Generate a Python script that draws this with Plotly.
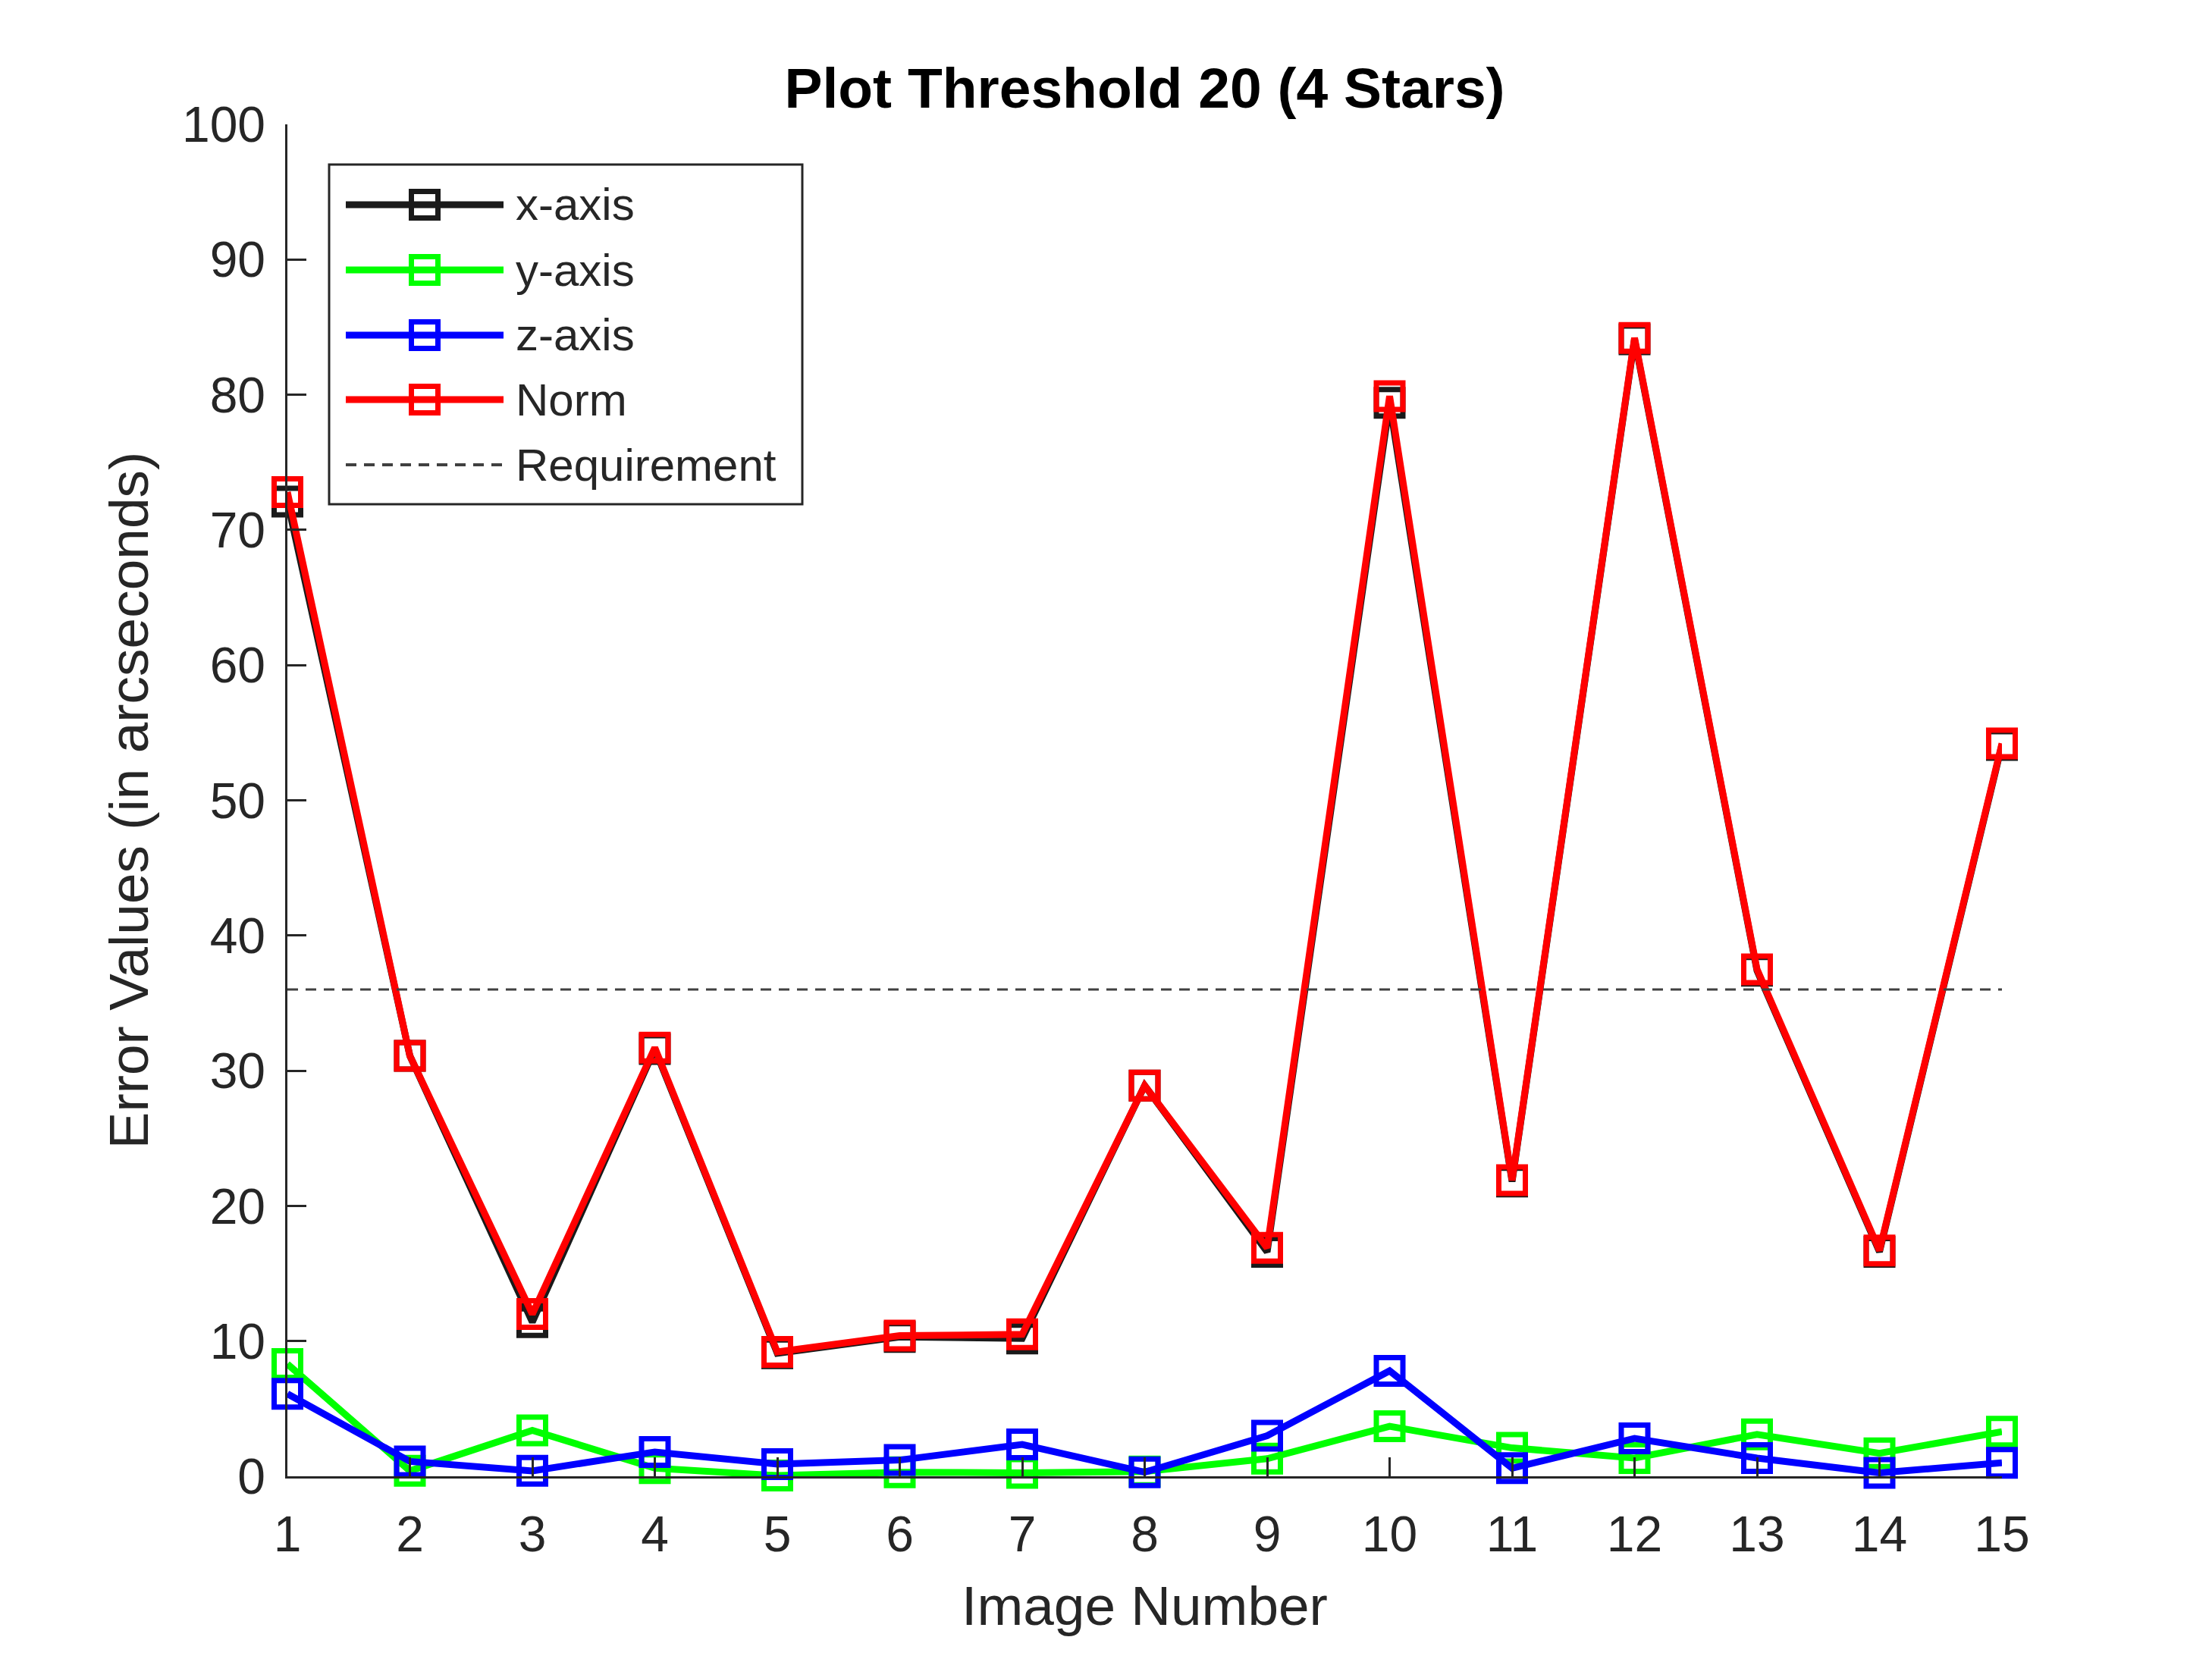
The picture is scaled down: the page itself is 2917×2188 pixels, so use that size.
import plotly.graph_objects as go

# data
image_number = list(range(1, 16))
x_axis_err = [72.1, 31.1, 11.4, 31.6, 9.1, 10.3, 10.2, 28.9, 16.6, 79.4, 21.8, 84.1, 37.4, 16.6, 54.1]
y_axis_err = [8.3, 0.4, 3.4, 0.6, 0.05, 0.3, 0.25, 0.35, 1.3, 3.7, 2.1, 1.35, 3.1, 1.7, 3.3]
z_axis_err = [6.1, 1.1, 0.4, 1.8, 0.9, 1.2, 2.35, 0.3, 3.0, 7.8, 0.6, 2.8, 1.35, 0.25, 1.0]
norm_err = [72.8, 31.1, 12.0, 31.7, 9.2, 10.4, 10.5, 28.9, 16.9, 79.9, 21.9, 84.2, 37.5, 16.7, 54.2]
requirement = 36

series_names = ["x-axis", "y-axis", "z-axis", "Norm"]
series_colors = ["#1a1a1a", "#00ff00", "#0000ff", "#ff0000"]
req_name = "Requirement"
req_color = "#404040"

y_ticks = list(range(0, 101, 10))

# figure geometry (pixels), MATLAB-like axes position
W, H = 2917, 2188
L, R, T, B = 379, 277, 164, 241
FONT = "Liberation Sans, Arial, Helvetica, sans-serif"
AX = "#262626"


def paper(px, py):
    return (px - L) / (W - L - R), (H - B - py) / (H - T - B)


fig = go.Figure()

for vals, name, col in zip([x_axis_err, y_axis_err, z_axis_err, norm_err], series_names, series_colors):
    fig.add_trace(go.Scatter(
        x=image_number, y=vals, name=name, mode="lines+markers",
        line=dict(color=col, width=9),
        marker=dict(symbol="square-open", size=35, color=col, line=dict(width=7, color=col)),
        cliponaxis=False, showlegend=False
    ))

fig.add_trace(go.Scatter(
    x=[image_number[0], image_number[-1]], y=[requirement, requirement],
    name=req_name, mode="lines",
    line=dict(color=req_color, width=3, dash="14px,10px"),
    showlegend=False
))

# hand-drawn legend box (MATLAB style, long line samples)
shapes = []
annotations = []
x0, y0 = paper(434, 217)
x1, y1 = paper(1058, 665)
shapes.append(dict(type="rect", xref="paper", yref="paper", x0=x0, y0=y1, x1=x1, y1=y0,
                   line=dict(color=AX, width=3), fillcolor="white", layer="above"))
row_y = [270, 356, 442, 527, 613]
for i, name in enumerate(series_names + [req_name]):
    lx0, ly = paper(456, row_y[i])
    lx1, _ = paper(664, row_y[i])
    if i < len(series_names):
        col = series_colors[i]
        shapes.append(dict(type="line", xref="paper", yref="paper", x0=lx0, x1=lx1, y0=ly, y1=ly,
                           line=dict(color=col, width=9), layer="above"))
        mx0, my0 = paper(560 - 17.5, row_y[i] - 17.5)
        mx1, my1 = paper(560 + 17.5, row_y[i] + 17.5)
        shapes.append(dict(type="rect", xref="paper", yref="paper", x0=mx0, x1=mx1, y0=my1, y1=my0,
                           line=dict(color=col, width=7), layer="above"))
    else:
        shapes.append(dict(type="line", xref="paper", yref="paper", x0=lx0, x1=lx1, y0=ly, y1=ly,
                           line=dict(color=req_color, width=4, dash="14px,10px"), layer="above"))
    tx, _ = paper(678, row_y[i])
    annotations.append(dict(text=name, xref="paper", yref="paper", x=tx, y=ly,
                            xanchor="left", yanchor="middle", showarrow=False,
                            font=dict(family=FONT, size=60, color=AX)))

fig.update_layout(
    width=W, height=H,
    margin=dict(l=L, r=R, t=T, b=B, pad=0),
    paper_bgcolor="white", plot_bgcolor="white",
    font=dict(family=FONT, color=AX),
    title=dict(text="Plot Threshold 20 (4 Stars)", x=(L + (W - L - R) / 2) / W, xanchor="center",
               y=1 - 116 / H, yanchor="middle", yref="container",
               font=dict(family=FONT, size=75, color="black", weight="bold")),
    shapes=shapes,
    annotations=annotations,
    xaxis=dict(
        range=[1, 15], tickvals=image_number, showgrid=False, zeroline=False,
        showline=True, linecolor=AX, linewidth=2.5,
        ticks="inside", ticklen=25, tickwidth=2.5, tickcolor=AX,
        ticklabelstandoff=17,
        tickfont=dict(family=FONT, size=66, color=AX),
        title=dict(text="Image Number", font=dict(family=FONT, size=73, color=AX), standoff=33)
    ),
    yaxis=dict(
        range=[0, 100], tickvals=y_ticks, showgrid=False, zeroline=False,
        showline=True, linecolor=AX, linewidth=2.5,
        ticks="inside", ticklen=25, tickwidth=2.5, tickcolor=AX,
        ticklabelstandoff=13,
        tickfont=dict(family=FONT, size=66, color=AX),
        title=dict(text="Error Values (in arcseconds)", font=dict(family=FONT, size=73, color=AX), standoff=21)
    ),
)

fig.write_html("out.html", config={"displayModeBar": False},
               post_script="document.body.style.margin='0';")
